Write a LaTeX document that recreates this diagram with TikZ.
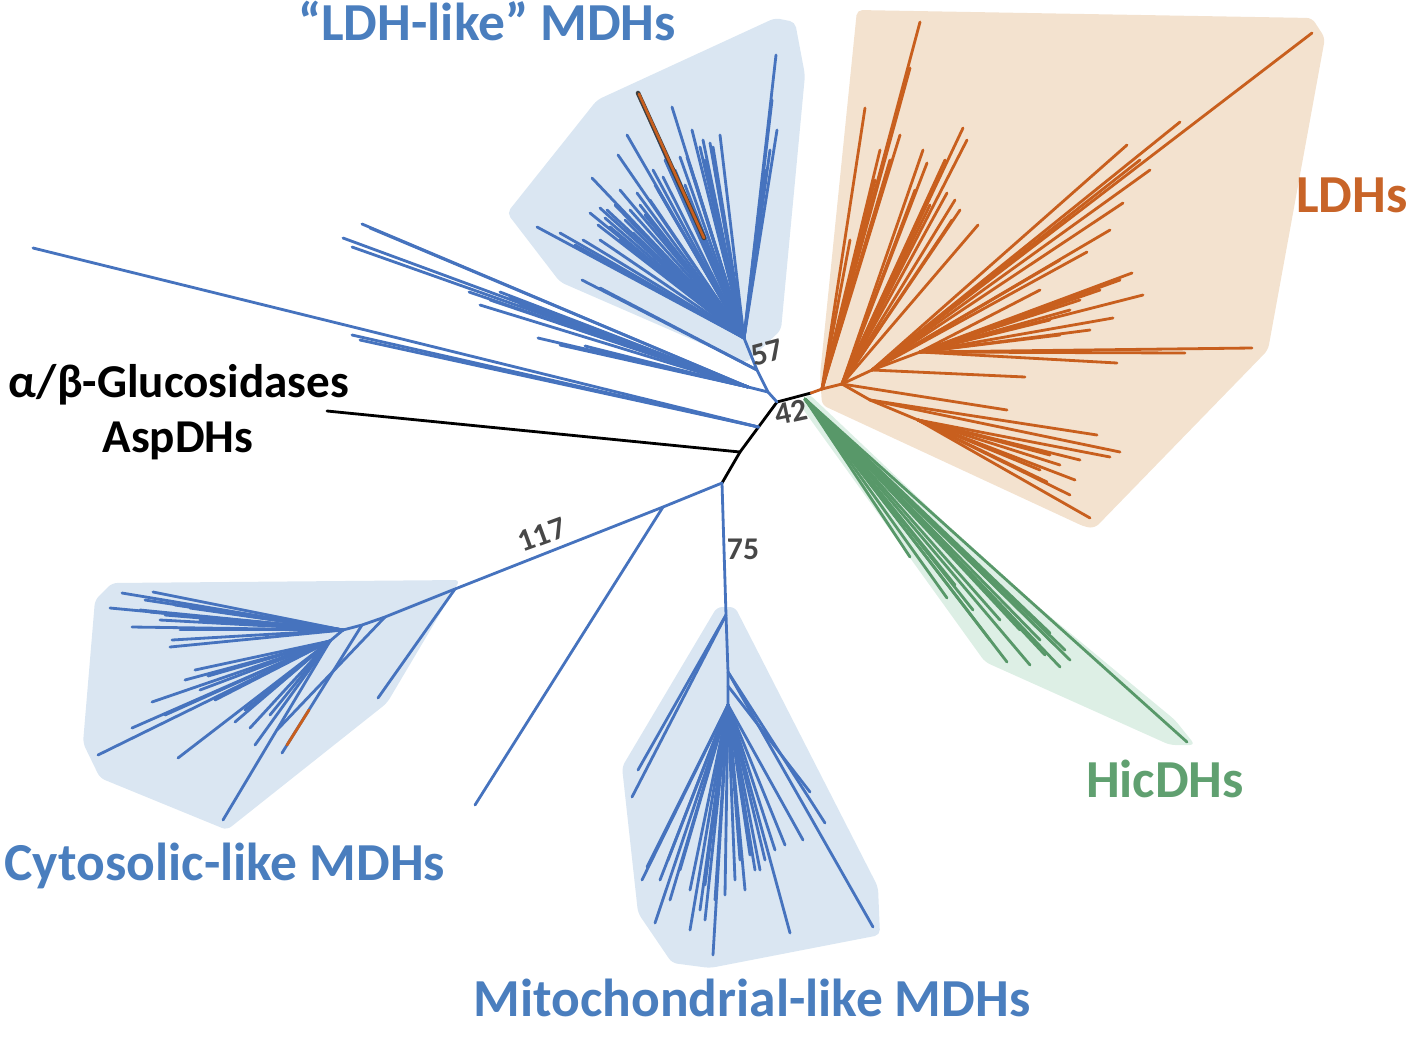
\documentclass[tikz,border=0pt]{standalone}
\usepackage{fontspec}
\setmainfont{Carlito}
\usetikzlibrary{calc}
\definecolor{mdhblue}{RGB}{70,115,190}
\definecolor{mdhtext}{RGB}{74,126,190}
\definecolor{mdhfill}{RGB}{218,230,242}
\definecolor{ldhorange}{RGB}{200,95,30}
\definecolor{ldhtext}{RGB}{200,100,40}
\definecolor{ldhfill}{RGB}{243,226,207}
\definecolor{hicgreen}{RGB}{88,152,105}
\definecolor{hictext}{RGB}{96,160,112}
\definecolor{hicfill}{RGB}{221,239,229}
\colorlet{support}{black!72}
\tikzstyle{mdh}=[line width=0.8pt,mdhblue]
\tikzstyle{ldh}=[line width=0.8pt,ldhorange]
\tikzstyle{hic}=[line width=0.8pt,hicgreen]
\tikzstyle{asp}=[line width=0.8pt,black]
\tikzstyle{hull}=[rounded corners=1.5pt]
\tikzstyle{clade}=[font=\bfseries\fontsize{15.2}{17}\selectfont,inner sep=0pt]
\tikzstyle{outgroup}=[font=\bfseries\fontsize{13.4}{15}\selectfont,inner sep=0pt,black]
\tikzstyle{boot}=[font=\bfseries\fontsize{9}{10}\selectfont,support,inner sep=0pt]
% fan of leaves from one internal node
\def\fan#1#2#3{
  \foreach \x/\y in {#3} \draw[#2] (#1) -- (\x,\y);
}
\begin{document}
\begin{tikzpicture}[x=0.01cm,y=-0.01cm,line cap=round]
  \useasboundingbox (0,0) rectangle (1415,1036);

  % HULLS
  \fill[hull,mdhfill] (507,213) -- (597,100) -- (775,18) -- (795,22) -- (805,75)
    -- (781,330) -- (746,363) -- (560,282) -- cycle;
  \fill[hull,ldhfill] (857,10) -- (1312,18) -- (1325,38) -- (1268,350)
    -- (1095,528) -- (1085,527) -- (822,405) -- (820,375) -- cycle;
  \fill[hull,hicfill] (808,393) -- (1000,575) -- (1175,720) -- (1195,745)
    -- (1170,745) -- (985,662) -- (800,405) -- cycle;
  \fill[hull,mdhfill] (112,583) -- (460,580) -- (387,703) -- (227,830)
    -- (100,778) -- (83,743) -- (95,600) -- cycle;
  \fill[hull,mdhfill] (717,607) -- (735,607) -- (878,887) -- (880,935)
    -- (710,968) -- (672,963) -- (638,913) -- (622,767) -- cycle;

  % BACKBONE
  \coordinate (A)   at (777,402);
  \coordinate (B)   at (811,393);
  \coordinate (Asp) at (740,452);
  \coordinate (D)   at (722,483);
  \coordinate (P)   at ($(A)!.5!(Asp)$);
  \coordinate (aspTip) at (327,411);
  \draw[asp] (B) -- (A) -- (Asp) -- (D);
  \draw[asp] (Asp) -- (aspTip);

  % UPPER BLUE BRANCHES
  \coordinate (S1) at (768,392);
  \coordinate (S2) at (757,370);
  \coordinate (L)  at (744,338);
  \coordinate (G)  at (748,387);
  \draw[mdh] (A) -- (S1) -- (S2) -- (L);
  \draw[mdh] (S1) -- (G);
  \fan{P}{mdh}{33/248,352/335,360/340}
  \fan{G}{mdh}{362/224,343/238,352/247,370/228,469/292,500/292,480/305,
    490/300,510/298,520/305,538/338,592/350,560/345,585/346}
  \fan{S2}{mdh}{582/280,600/288}

  % LDH-LIKE MDHs
  \fan{L}{mdh}{776/55,777/130,772/100,766/170,770/150,720/135,672/107,692/130,
    703/140,710/143,713/147,700/147,687/157,680/157,663/177,653/170,637/193,
    618/155,627/135,607/210,600/208,590/213,610/227,633/233,583/240,560/233,
    592/178,537/227,650/200,620/190,645/215,625/220,638/93,665/160,675/170,
    690/165,695/180,658/190,640/205,615/205,605/218,598/225,630/210,655/185,
    685/185,705/160,715/170,600/240,575/245,620/240}
  \draw[line width=1.3pt,black!75] (638,93) -- (704,238);
  \draw[line width=0.75pt,ldhorange] (639,94) -- (704,238);

  % LDHs
  \coordinate (O1) at (822,389);
  \coordinate (O2) at (842,384);
  \coordinate (O3) at (872,370);
  \coordinate (O4) at (920,352);
  \coordinate (O5) at (870,400);
  \coordinate (O6) at (918,420);
  \draw[ldh] (B) -- (O1) -- (O2) -- (O3) -- (O4);
  \draw[ldh] (O2) -- (O5) -- (O6);
  \fan{O1}{ldh}{920/22,910/68,865/108,850/240,875/180,900/135,890/160,880/150}
  \fan{O2}{ldh}{963/128,967/140,927/163,923/150,978/225,952/220,947/193,
    940/175,955/200,935/185,960/210,930/205,945/160,1007/410,915/190}
  \fan{O3}{ldh}{1025/377,1312/33,1180/122,1127/145,1123/203,1060/260,
    1087/252,1150/170,1110/230,1140/160}
  \fan{O4}{ldh}{1132/273,1143/295,1113/318,1100/290,1080/300,1070/310,
    1050/320,1090/330,1060/335,1040/290,1117/363,1185/353,1252/348,1120/280}
  \fan{O5}{ldh}{1097/435,1120/452}
  \fan{O6}{ldh}{1110/457,1070/495,1090/518,1047/482,1060/465,1040/470,
    1075/480,1080/460,1050/455}

  % HicDHs
  \coordinate (H0) at (805,399);
  \fan{H0}{hic}{1187/742,1007/662,1030/665,1060/667,1070/660,1050/633,
    947/598,973/610,910/557,1040/640,1020/630,1000/620,1065/650,1045/655,
    990/640,955/585,1055/645}

  % CYTOSOLIC-LIKE MDHs
  \coordinate (N1) at (663,507);
  \coordinate (C1) at (455,589);
  \coordinate (C2) at (385,617);
  \coordinate (C3) at (362,625);
  \coordinate (C4) at (343,630);
  \coordinate (C5) at (330,641);
  \draw[mdh] (D) -- (N1) -- (C1) -- (C2) -- (C3) -- (C4) -- (C5);
  \fan{N1}{mdh}{475/805}
  \fan{C1}{mdh}{378/698}
  \fan{C2}{mdh}{277/730}
  \fan{C3}{mdh}{282/753}
  \fan{C4}{mdh}{122/593,110/608,153/592,132/627,170/647,172/640,150/612,
    160/620,145/600,180/630,200/620,190/608,175/605,165/615,140/610}
  \fan{C5}{mdh}{223/820,178/758,98/755,132/728,250/728,152/702,195/670,
    245/710,235/722,200/690,215/700,165/715,185/680,260/700,270/715,
    255/745,208/676}
  \draw[ldh] (287,745) -- (309,710);

  % MITOCHONDRIAL-LIKE MDHs
  \coordinate (M0) at (726,615);
  \coordinate (M1) at (728,672);
  \coordinate (M2) at (728,686);
  \coordinate (M3) at (728,705);
  \draw[mdh] (D) -- (M0) -- (M1) -- (M2) -- (M3);
  \fan{M0}{mdh}{632/797,638/770}
  \fan{M1}{mdh}{873/927,825/823}
  \fan{M2}{mdh}{810/792}
  \fan{M3}{mdh}{790/933,713/955,655/923,700/910,647/867,803/840,755/870,
    660/880,670/900,680/870,690/890,705/885,715/900,735/880,745/890,
    765/860,775/850,785/845,740/860,750/855,690/930,705/920,725/895,
    760/870,642/880,668/860}

  % LABELS
  \node[clade,mdhtext,anchor=base] (ldhlike) at (487,40) {“LDH-like” MDHs};
  \node[clade,ldhtext,anchor=base] (ldhs) at (1352,212) {LDHs};
  \node[clade,hictext,anchor=base] (hicdhs) at (1165,797) {HicDHs};
  \node[clade,mdhtext,anchor=base] (cyto) at (225,880) {Cytosolic-like MDHs};
  \node[clade,mdhtext,anchor=base] (mito) at (752,1016) {Mitochondrial-like MDHs};
  \node[outgroup,anchor=base] (gluc) at (179,397) {α/β-Glucosidases};
  \node[outgroup,anchor=base] (aspdh) at (178,452) {AspDHs};
  \node[boot,rotate=15] (b57) at (767,353) {57};
  \node[boot,rotate=12] (b42) at (791,412) {42};
  \node[boot,rotate=20] (b117) at (542,535) {117};
  \node[boot] (b75) at (743,549) {75};
\end{tikzpicture}
\end{document}
